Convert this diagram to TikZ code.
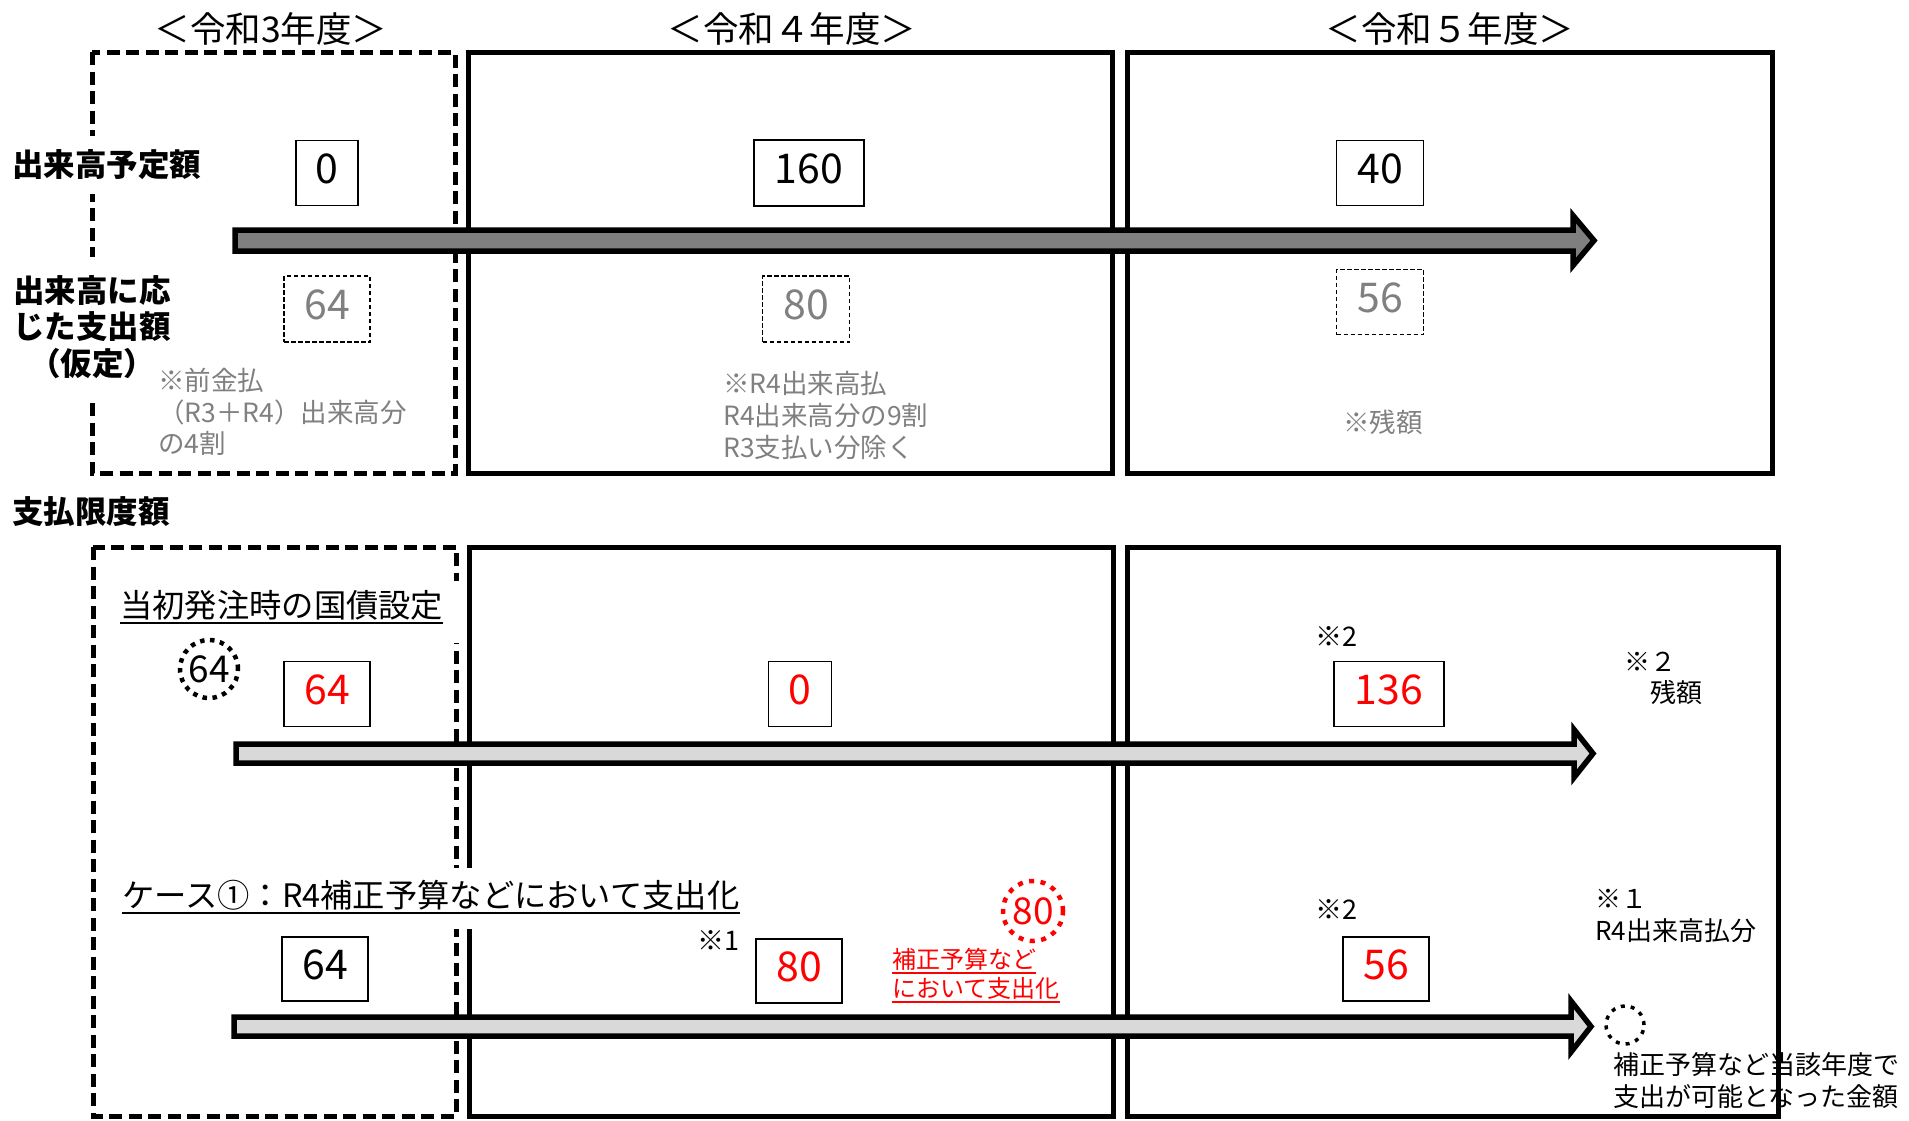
\documentclass[tikz,border=0pt]{standalone}
\usepackage{fontspec}
\setmainfont{Noto Sans CJK JP}
\definecolor{notegray}{HTML}{808080}
\definecolor{darkfill}{HTML}{7F7F7F}
\definecolor{lightfill}{HTML}{D9D9D9}
\newcommand{\timearrow}[7]{%
  \draw[line width=5.5pt, line join=miter, fill=#1]
    (#2,#3-#4) -- (#6,#3-#4) -- (#6,#3-#5) -- (#7,#3) -- (#6,#3+#5)
    -- (#6,#3+#4) -- (#2,#3+#4) -- cycle;}
\begin{document}
\begin{tikzpicture}[x=1pt,y=-1pt,
  frame/.style={draw=black, line width=5pt, line join=miter},
  dframe/.style={frame, dash pattern=on 13pt off 6.5pt},
  yeartitle/.style={font=\fontsize{35.5}{40}\selectfont, inner sep=0pt},
  rowlabel/.style={font=\bfseries\fontsize{31.5}{36.5}\selectfont, align=center, inner xsep=4pt},
  numbox/.style={draw=black, line width=1.8pt, font=\fontsize{41}{45}\selectfont, inner sep=0pt, text height=30pt, text depth=9pt},
  dnumbox/.style={numbox, line width=1.5pt, dash pattern=on 4.5pt off 2.5pt, text=notegray},
  rnumbox/.style={numbox, text=red},
  note/.style={text=notegray, font=\fontsize{26.5}{31.5}\selectfont, align=left, inner sep=0pt, anchor=north west},
  heading/.style={font=\fontsize{32.3}{38}\selectfont, inner sep=0pt, anchor=west},
  smalltext/.style={font=\fontsize{26}{31.5}\selectfont, inner sep=0pt, align=left},
  refmark/.style={font=\fontsize{27}{32}\selectfont, inner sep=0pt},
  redtext/.style={font=\fontsize{24}{29}\selectfont, inner sep=0pt, anchor=west, text=red},
  dotcircle/.style={circle, draw=black, line width=4.5pt, dash pattern=on 4.5pt off 5.5pt, inner sep=0pt, font=\fontsize{37}{40}\selectfont},
  uline/.style={line width=1.8pt}
]
\useasboundingbox (0,0) rectangle (1909,1120);
\fill[white] (0,0) rectangle (1909,1120);

% year titles
\node[yeartitle] (t3) at (271,29) {＜令和3年度＞};
\node[yeartitle] (t4) at (792,29) {＜令和４年度＞};
\node[yeartitle] (t5) at (1450,29) {＜令和５年度＞};

% upper frames
\draw[dframe] (92,52) rectangle (455,473);
\draw[frame] (468,52) rectangle (1112,473);
\draw[frame] (1127,52) rectangle (1772,473);
% lower frames
\draw[dframe] (93,547) rectangle (456,1116);
\draw[frame] (469,547) rectangle (1113,1116);
\draw[frame] (1127,547) rectangle (1778,1116);

% masks behind headings
\fill[white] (101,581) rectangle (460,643);
\fill[white] (112,868) rectangle (750,929);

% row labels
\node[rowlabel, fill=white, inner ysep=14pt] (lab1) at (107,165) {出来高予定額};
\node[rowlabel, fill=white, inner ysep=18pt] (lab2) at (92,327) {出来高に応\\じた支出額\\（仮定）};
\node[rowlabel, inner sep=0pt] (lab3) at (91,512) {支払限度額};

% arrows
\timearrow{darkfill}{235}{240.5}{10.5}{25}{1573}{1594}
\timearrow{lightfill}{236}{753.5}{9.5}{24}{1574}{1593}
\timearrow{lightfill}{234}{1026.5}{9.5}{25.5}{1571}{1591}

% upper number boxes
\node[numbox, minimum width=62pt, minimum height=65pt] (n0) at (327,173) {0};
\node[numbox, minimum width=110pt, minimum height=66pt] (n160) at (809,173) {160};
\node[numbox, minimum width=87pt, minimum height=65pt] (n40) at (1380,173) {40};
\node[dnumbox, minimum width=86pt, minimum height=66pt] (d64) at (327,309) {64};
\node[dnumbox, minimum width=87pt, minimum height=66pt] (d80) at (806,309) {80};
\node[dnumbox, minimum width=87pt, minimum height=65pt] (d56) at (1380,302) {56};

% gray notes
\node[note] (note3) at (158,368) {※前金払\\（R3＋R4）出来高分\\の4割};
\node[note, font=\fontsize{26.5}{32}\selectfont] (note4) at (723,371) {※R4出来高払\\R4出来高分の9割\\R3支払い分除く};
\node[note, anchor=center] (note5) at (1383,422) {※残額};

% headings
\node[heading] (h1) at (120,605) {当初発注時の国債設定};
\draw[uline] ([yshift=-3pt]h1.south west) -- ([yshift=-3pt]h1.south east);
\node[heading] (h2) at (122,895) {ケース①：R4補正予算などにおいて支出化};
\draw[uline] ([yshift=-3pt]h2.south west) -- ([yshift=-3pt]h2.south east);

% lower row 1
\node[dotcircle, minimum size=58pt] (c64) at (209,669) {64};
\node[rnumbox, minimum width=86pt, minimum height=65pt] (a64) at (327,694) {64};
\node[rnumbox, minimum width=63pt, minimum height=65pt] (a0) at (800,694) {0};
\node[refmark] (m2a) at (1336,636) {※2};
\node[rnumbox, minimum width=110pt, minimum height=65pt] (a136) at (1389,694) {136};
\node[smalltext, anchor=north west] (m2b) at (1624,651.5) {※２\\　残額};

% lower row 2
\node[numbox, minimum width=86pt, minimum height=64pt] (b64) at (325,969) {64};
\node[refmark] (m1a) at (718,940) {※1};
\node[rnumbox, minimum width=86pt, minimum height=64pt] (b80) at (799,971) {80};
\node[dotcircle, draw=red, text=red, dash pattern=on 5pt off 6.5pt, minimum size=60pt] (c80) at (1033,911) {80};
\node[redtext] (r1) at (892,959) {補正予算など};
\draw[uline, red, line width=1.6pt] ([yshift=-2.5pt]r1.south west) -- ([yshift=-2.5pt]r1.south east);
\node[redtext] (r2) at (892,988) {において支出化};
\draw[uline, red, line width=1.6pt] ([yshift=-2.5pt]r2.south west) -- ([yshift=-2.5pt]r2.south east);
\node[refmark] (m2c) at (1336,909) {※2};
\node[rnumbox, minimum width=86pt, minimum height=64pt] (b56) at (1386,969) {56};
\node[smalltext, anchor=north west, font=\fontsize{26}{32}\selectfont] (m1b) at (1595,889.5) {※１\\R4出来高払分};
\node[dotcircle, line width=3.5pt, dash pattern=on 4pt off 6pt, minimum size=38pt] (cempty) at (1625,1025) {};
\node[smalltext, anchor=north west, font=\fontsize{26}{32}\selectfont] (bottomnote) at (1613,1052) {補正予算など当該年度で\\支出が可能となった金額};

\end{tikzpicture}
\end{document}
